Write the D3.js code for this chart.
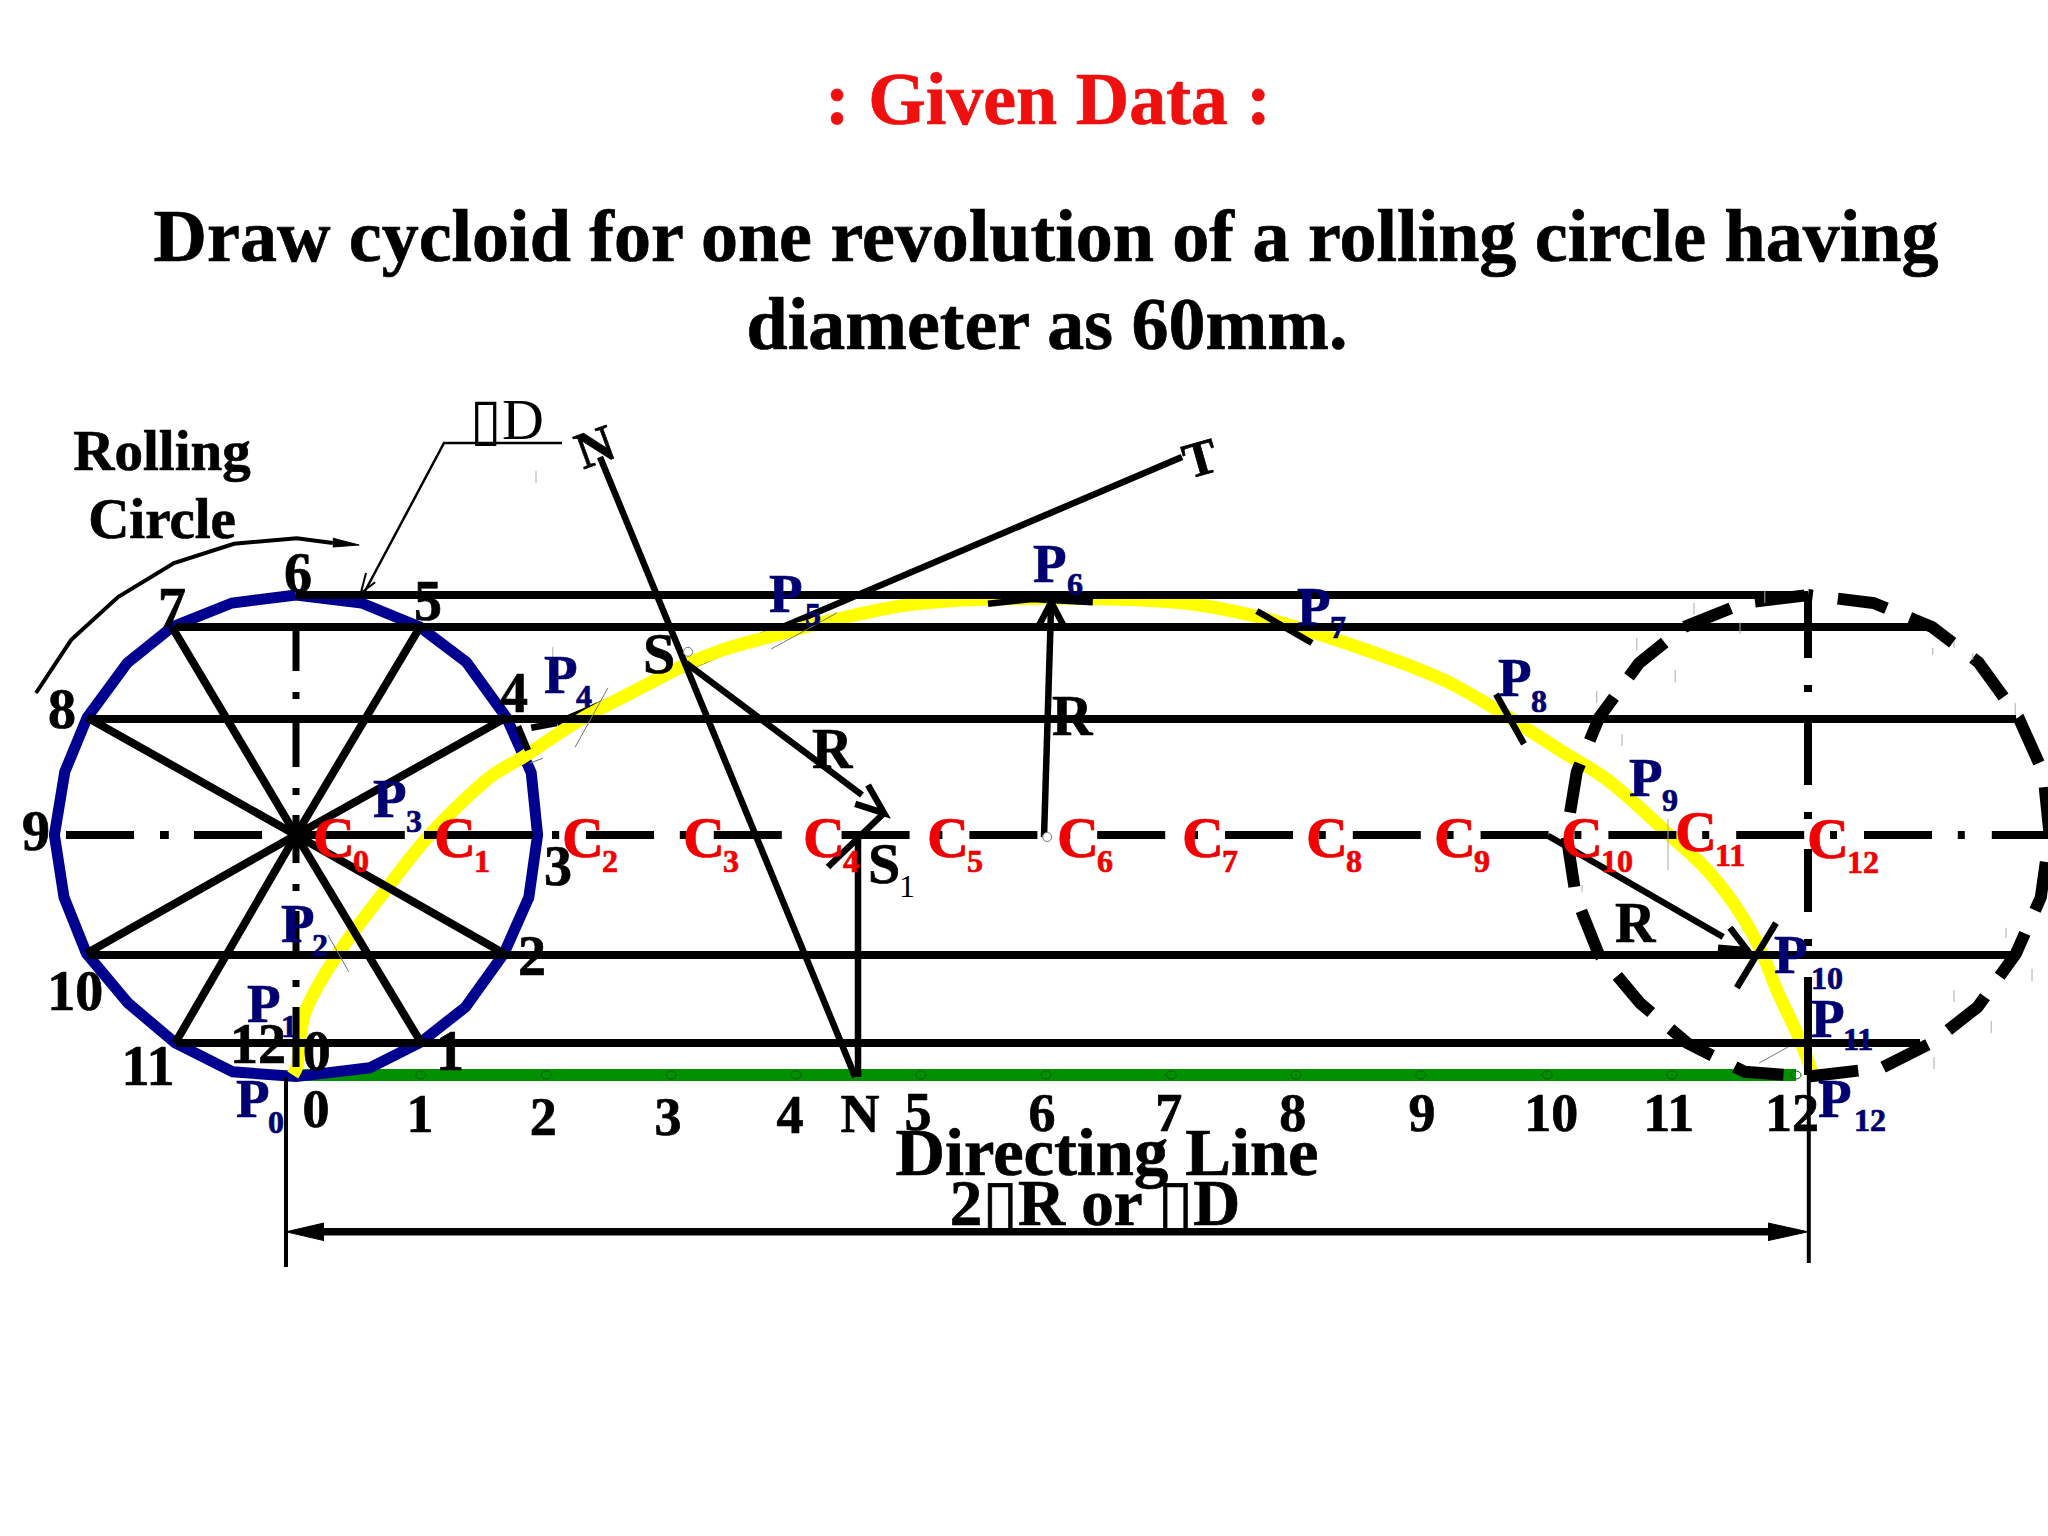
<!DOCTYPE html>
<html>
<head>
<meta charset="utf-8">
<script src="https://cdn.jsdelivr.net/npm/d3@7"></script>
<style>
    html, body { margin: 0; padding: 0; background: #fff; }
    text { font-family: "Liberation Serif", "DejaVu Sans", serif; }
</style>
</head>
<body>
<div id="chart"></div>
<script>
// all geometry, in mm (x from C0, y up from the directing line)
const wheelX = [0, 8.2, 15.5, 21.3, 26.3, 29.4, 30.2, 29.1, 26, 21.2, 15.6, 9.2, 0, -7.9, -15.1, -21, -26.2, -29, -30.2, -28.9, -26.1, -21.1, -15.5, -8];
const wheelY = [60, 59, 56, 51.6, 44.7, 37.8, 30, 22.2, 15.2, 8.5, 4.1, 0.9, -0.2, 0.4, 4, 9, 15.2, 22.2, 30, 37.9, 44.7, 51.5, 56, 59];
const spokeVertices = [2, 4, 8, 10, 14, 16, 20, 22];
const rollDistance = 189;

const centreX = [0, 15.7, 31.5, 47.2, 63, 78.7, 94.5, 110.2, 126, 141.7, 157.5, 173.2, 189];
const markerX = [15.6, 31.3, 46.9, 62.5, 78.1, 93.75, 109.4, 125, 140.6, 156.4, 172, 187.5];

const cycloidX = [-0.4, 0.1, 0.4, 1.1, 3, 6.4, 10.9, 15.9, 20.1, 24.6, 28.4, 35.5, 43.9, 48.6, 53.5, 59.6, 66, 76, 84, 93.9, 102, 111.1, 118, 124.3, 138, 144.25, 150.5, 158, 163.9, 171.4, 176.4, 180.5, 183.25, 185.1, 187.6, 189.25, 189.4];
const cycloidY = [0, 1, 3.9, 7.75, 11.6, 16.8, 22.75, 29.1, 33.5, 37.5, 39.75, 44.4, 48.8, 51.25, 53.2, 54.9, 56.6, 58.7, 59.4, 59.6, 59.5, 59, 57.8, 56.2, 51.6, 49, 45.4, 40.6, 36.9, 30.25, 25.6, 20.25, 15.25, 10.6, 5.25, 1, 0];

const levelY = [60, 56, 44.5, 15, 4];
const levelFrom = [0, -15, -26, -26, -15];
const levelTo = [189, 204, 215, 215.4, 203];

// pieces of the horizontal centre line left of the regular dash pattern
const centreDashFrom = [-28.75, -17, -12.75, 0, 16, 32];
const centreDashTo = [-20.25, -15.9, -4.25, 13.6, 29.6, 32.9];

const tickLabels = ['0', '1', '2', '3', '4', 'N', '5', '6', '7', '8', '9', '10', '11', '12'];
const tickLabelX = [2.5, 15.5, 30.9, 46.5, 61.75, 70.5, 77.75, 93.25, 109.1, 124.6, 140.75, 156.9, 171.6, 187];
const tickLabelY = [-6.5, -7.1, -7.5, -7.5, -7.25, -7.1, -6.9, -7, -7, -7, -7, -7, -7, -7];

const wheelLabels = ['6', '5', '4', '3', '2', '1', '0', '12', '11', '10', '9', '8', '7'];
const wheelLabelX = [0.25, 16.5, 27.25, 32.75, 29.5, 19.25, 2.6, -4.75, -18.5, -27.6, -32.5, -29.25, -15.5];
const wheelLabelY = [60.4, 56.9, 45.4, 23.75, 12.5, 0.6, 0.6, 1.5, -1.25, 8.1, 28.1, 43.4, 56];

const strayX = [174.75, 183.6, 180.5, 167.6, 172.4, 162.6, 165.75, 204.6, 207.25, 209.6, 214.9, 217, 213.75, 207.25, 211.9, 204.75, 160.75, 171.5, 30, 32.1];
const strayTop = [59, 60.5, 56.6, 54.6, 50.6, 48, 42.6, 53.4, 54.25, 52.75, 46.5, 13.25, 18.4, 10.6, 6.75, 2.25, 23.75, 32, 75.5, 53.5];
const strayBottom = [57.5, 59, 55.1, 53.1, 49.1, 46.5, 41.1, 52.5, 53.4, 51.9, 45, 11.75, 17.1, 9.1, 5.25, 0.75, 22.9, 25.6, 74, 51.5];

const tangent = [[110.75, 77.25], [32.6, 44]];
const thickLines = [
    [[38, 77.25], [69.9, -0.25]],                        // normal
    [[27.75, 43.6], [29, 40.6]],
    [[29.4, 43.4], [32.6, 44]],
    [[48.75, 51.5], [70.75, 35]],                        // S to S1
    [[71.5, 36.25], [73.5, 32.75], [69.9, 33.9]],
    [[73.5, 32.75], [66.5, 26]],
    [[93.5, 29.75], [94.4, 59.1]],                       // C6 to P6
    [[92.9, 56.25], [94.4, 59.1], [95.9, 56.25]],
    [[156.5, 29.9], [178.4, 17.25]],                     // C10 to P10
    [[179.25, 18.4], [181.4, 15.6], [177.75, 15.9]],
    [[185, 19], [180.1, 10.9]],
    [[150, 47.6], [153.5, 41.4]],
    [[120.1, 58], [127, 54]],
    [[86.5, 58.9], [92, 59.5], [99.6, 59.1]],
    [[70.25, 29.75], [70.25, -0.25]]
];
const thinLines = [
    [[59.4, 53.25], [67.6, 57.75]],
    [[39, 48.4], [34.9, 41]],
    [[4, 17.5], [6.6, 12.9]],
    [[182.9, 1.5], [186.5, 3.5]],
    [[29.25, 39], [30.9, 39.6]]
];
const rollingArrow = [[-32.5, 47.75], [-28.1, 54.4], [-22.25, 59.75], [-15.25, 64], [-7.75, 66.4], [0.1, 67.1], [4.6, 66.5]];
const rollingHead = [[4.6, 67.1], [7.9, 66.25], [4.6, 66]];
const diameterCallout = [[33.25, 79], [18.5, 79], [8.5, 60.25]];
const diameterHead = [[8.75, 62.75], [8.1, 60.25], [9.9, 61.6]];

// name, subscript, x, baseline, subscript x, subscript baseline
const pointLabels = [
    ['P', '0', 236, 1117, 268, 1133], ['P', '1', 247, 1022, 281, 1037], ['P', '2', 281, 942, 312, 956],
    ['P', '3', 373, 817, 406, 832], ['P', '4', 544, 693, 576, 707], ['P', '5', 769, 612, 805, 625],
    ['P', '6', 1033, 582, 1067, 595], ['P', '7', 1297, 625, 1330, 638], ['P', '8', 1498, 696, 1531, 712],
    ['P', '9', 1629, 796, 1662, 811], ['P', '10', 1774, 973, 1811, 989], ['P', '11', 1811, 1037, 1843, 1050],
    ['P', '12', 1818, 1117, 1854, 1131]
];
const centreLabelLeft = [313, 434, 562, 683, 803, 927, 1057, 1182, 1306, 1434, 1561, 1675, 1807];
const centreLabelBase = [857, 857, 857, 857, 857, 857, 857, 857, 857, 857, 857, 851, 858];

const width = 2048, height = 1536;
const x = d3.scaleLinear().domain([0, 189]).range([296, 1808]);
const y = d3.scaleLinear().domain([0, 60]).range([1075, 595]);

const svg = d3.select('#chart').append('svg')
    .attr('width', width)
    .attr('height', height)
    .style('display', 'block');

const line = d3.line().x(d => x(d[0])).y(d => y(d[1]));
const wheelPoints = wheelX.map((d, i) => [d, wheelY[i]]);

function drawPath(points, stroke, strokeWidth, fill) {
    return svg.append('path')
        .attr('d', line(points))
        .attr('fill', fill || 'none')
        .attr('stroke', stroke)
        .attr('stroke-width', strokeWidth)
        .attr('stroke-linejoin', 'miter');
}

function drawText(str, px, py, size, color, weight, anchor) {
    const bold = (weight || 'bold') === 'bold';
    return svg.append('text')
        .attr('x', px)
        .attr('y', py)
        .attr('font-size', size)
        .attr('font-weight', weight || 'bold')
        .attr('fill', color || '#000')
        .attr('stroke', bold ? (color || '#000') : 'none')
        .attr('stroke-width', bold ? 0.7 : 0)
        .attr('text-anchor', anchor || 'start')
        .text(str);
}

// directing line and its division marks
drawPath([[0, 0], [187.5, 0]], '#009000', 12);

svg.append('g').selectAll('ellipse')
    .data(markerX)
    .join('ellipse')
    .attr('cx', d => x(d))
    .attr('cy', y(0))
    .attr('rx', 5)
    .attr('ry', 4)
    .attr('fill', 'none')
    .attr('stroke', '#005c00')
    .attr('stroke-width', 1);

// rolling circle, tangent, then the locus on top of them
drawPath(wheelPoints.concat([wheelPoints[0]]), '#000090', 11);
drawPath(tangent, '#000', 6.5);

svg.append('path')
    .attr('d', d3.line().x(d => x(d[0])).y(d => y(d[1])).curve(d3.curveCatmullRom)(cycloidX.map((d, i) => [d, cycloidY[i]])))
    .attr('fill', 'none')
    .attr('stroke', '#ffff00')
    .attr('stroke-width', 13);

// horizontals through the circle divisions
levelY.forEach((d, i) => drawPath([[levelFrom[i], d], [levelTo[i], d]], '#000', 8));

// spokes
spokeVertices.forEach(i => drawPath([[0, 30], wheelPoints[i]], '#000', 8));

// centre lines
centreDashFrom.forEach((d, i) => drawPath([[d, 30], [centreDashTo[i], 30]], '#000', 8));
drawPath([[36.25, 30], [219, 30]], '#000', 8).attr('stroke-dasharray', '68 25.8 7 27');
drawPath([[0, 56.5], [0, 9]], '#000', 7).attr('stroke-dasharray', '48 21 7 20');
drawPath([[0, 8.5], [0, 1]], '#000', 7);
drawPath([[rollDistance, 60], [rollDistance, 12.5]], '#000', 8).attr('stroke-dasharray', '63 27 7 30');
drawPath([[rollDistance, 12.25], [rollDistance, 0]], '#000', 8);

// last position of the circle
drawPath(wheelPoints.concat([wheelPoints[0]]).map(d => [d[0] + rollDistance, d[1]]), '#000', 12)
    .attr('stroke-dasharray', '50 25.2')
    .attr('stroke-dashoffset', -30);

thickLines.forEach(d => drawPath(d, '#000', 6.5));
thinLines.forEach(d => drawPath(d, '#777', 1));
drawPath(rollingArrow, '#000', 4);
drawPath(rollingHead, '#000', 1, '#000');
drawPath(diameterCallout, '#000', 2.5);
drawPath(diameterHead, '#000', 2);

svg.append('g').selectAll('line')
    .data(strayX)
    .join('line')
    .attr('x1', d => x(d))
    .attr('x2', d => x(d))
    .attr('y1', (d, i) => y(strayTop[i]))
    .attr('y2', (d, i) => y(strayBottom[i]))
    .attr('stroke', '#aaa')
    .attr('stroke-width', 1);

// small construction circles at S and C6
[[49, 52.9], [93.9, 29.75]].forEach(d => {
    svg.append('circle')
        .attr('cx', x(d[0]))
        .attr('cy', y(d[1]))
        .attr('r', 4.5)
        .attr('fill', '#fff')
        .attr('stroke', '#777')
        .attr('stroke-width', 1);
});

// overall dimension
drawPath([[-1.25, -0.3], [-1.25, -24]], '#000', 4);
drawPath([[rollDistance + 0.1, 0], [rollDistance + 0.1, -23.5]], '#000', 4);
drawPath([[2, -19.6], [185, -19.6]], '#000', 7.5);
drawPath([[3.5, -18.5], [-1.25, -19.6], [3.5, -20.7]], '#000', 1, '#000');
drawPath([[184, -18.5], [rollDistance, -19.6], [184, -20.7]], '#000', 1, '#000');

// text
drawText(': Given Data :', 1048, 124, 74, '#ee0f0f', 'bold', 'middle');
drawText('Draw cycloid for one revolution of a rolling circle having', 1046, 261, 74, '#000', 'bold', 'middle');
drawText('diameter as 60mm.', 1047, 349, 74, '#000', 'bold', 'middle');
drawText('Rolling', 162, 470, 57, '#000', 'bold', 'middle');
drawText('Circle', 162, 538, 57, '#000', 'bold', 'middle');
drawText('\u25AFD', 470, 439, 58, '#000', 'normal');
drawText('Directing Line', 1107, 1175, 68.5, '#000', 'bold', 'middle');
drawText('2\u25AFR or \u25AFD', 1095, 1225, 65, '#000', 'bold', 'middle');

tickLabels.forEach((d, i) => {
    drawText(d, x(tickLabelX[i]), y(tickLabelY[i]), 54, '#000', 'bold', 'middle');
});
wheelLabels.forEach((d, i) => {
    drawText(d, x(wheelLabelX[i]), y(wheelLabelY[i]), 56, '#000', 'bold', 'middle');
});

centreX.forEach((d, i) => {
    const left = centreLabelLeft[i];
    const base = centreLabelBase[i];
    drawText('C', left, base, 58, '#f00000');
    drawText(String(i), left + 40, base + 15, 32, '#f00000');
});
pointLabels.forEach(d => {
    drawText(d[0], d[2], d[3], 55, '#000070');
    drawText(d[1], d[4], d[5], 32, '#000070');
});

drawText('S', 643, 673, 58);
drawText('S', 868, 883, 58);
drawText('1', 899, 897, 32, '#000', 'normal');
drawText('R', 1052, 735, 56);
drawText('R', 812, 768, 56);
drawText('R', 1615, 942, 56);
drawText('N', 595, 464, 52, '#000', 'bold', 'middle').attr('transform', 'rotate(-20 595 447)');
drawText('T', 1200, 475, 50, '#000', 'bold', 'middle').attr('transform', 'rotate(-16 1200 458)');
</script>
</body>
</html>
